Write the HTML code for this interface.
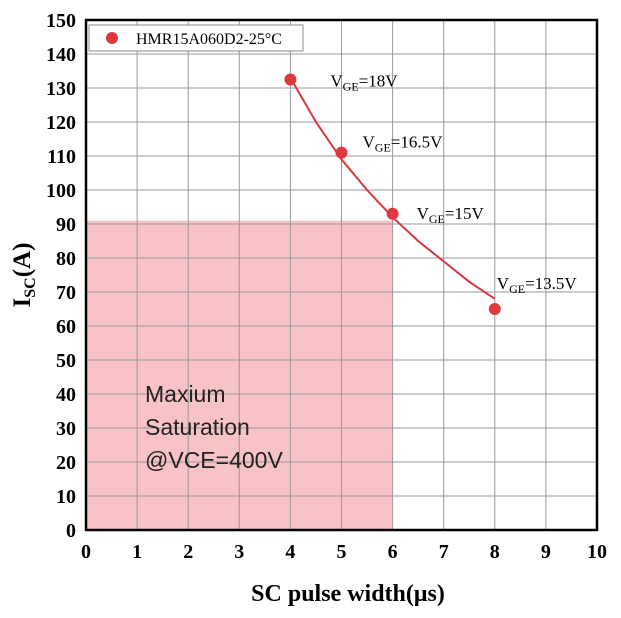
<!DOCTYPE html>
<html><head><meta charset="utf-8"><style>
body{margin:0;background:#fff;}
svg{display:block;font-family:"Liberation Serif",serif;}
</style></head><body>
<svg id="c" width="621" height="618"></svg>
<script>
const xTicks=[0,1,2,3,4,5,6,7,8,9,10];
const yTicks=[0,10,20,30,40,50,60,70,80,90,100,110,120,130,140,150];
const ptX=[4,5,6,8];
const ptY=[132.5,111,93,65];
const ptLabels=["18V","16.5V","15V","13.5V"];
const curveX=[4,4.5,5,5.5,6,6.5,7,7.5,8];
const curveY=[133,120,109,100,92,85,79,73,68];
const regionX=6, regionY=91;
const L=86,R=597,T=20,B=530;
const sx=v=>L+(R-L)*v/10, sy=v=>B-(B-T)*v/150;
const NS="http://www.w3.org/2000/svg";
const svg=document.getElementById('c');
function mk(t,a,p){const e=document.createElementNS(NS,t);for(const k in a)e.setAttribute(k,a[k]);(p||svg).appendChild(e);return e;}
let r=mk('rect',{x:L,y:sy(regionY),width:sx(regionX)-L,height:B-sy(regionY),fill:'#f8c3c6'});


xTicks.forEach(v=>{let l=mk('line',{x1:sx(v),x2:sx(v),y1:T,y2:B,stroke:'#999','stroke-width':1});


let t=mk('text',{x:sx(v),y:558,'text-anchor':'middle','font-size':20,'font-weight':'bold'});t.textContent=v;

});
yTicks.forEach(v=>{let l=mk('line',{x1:L,x2:R,y1:sy(v),y2:sy(v),stroke:'#999','stroke-width':1});


let t=mk('text',{x:76,y:sy(v)+7,'text-anchor':'end','font-size':20,'font-weight':'bold'});t.textContent=v;

});
let f=mk('rect',{x:L,y:T,width:R-L,height:B-T,fill:'none',stroke:'#000','stroke-width':2.5});


let d=curveX.map((x,i)=>(i?'L':'M')+sx(x)+','+sy(curveY[i])).join(' ');
let c=mk('path',{d:d,fill:'none',stroke:'#d9363e','stroke-width':2});


const offs=[[40,7],[21,-5],[24,5],[2,-20]];
ptX.forEach((x,i)=>{let p=mk('circle',{cx:sx(x),cy:sy(ptY[i]),r:6,fill:'#e0383f'});


let t=mk('text',{x:sx(x)+offs[i][0],y:sy(ptY[i])+offs[i][1],'font-size':17});
t.innerHTML='V<tspan font-size="12" dy="4">GE</tspan><tspan dy="-4">='+ptLabels[i]+'</tspan>';

});
let lg=mk('rect',{x:89,y:25,width:214,height:26,fill:'#fff',stroke:'#888'});


let lc=mk('circle',{cx:112,cy:38,r:6,fill:'#e0383f'});


let lt=mk('text',{x:136,y:44,'font-size':16});lt.textContent='HMR15A060D2-25°C';


['Maxium','Saturation','@VCE=400V'].forEach((s,i)=>{let t=mk('text',{x:145,y:402+i*33,'font-size':23,'font-family':'Liberation Sans, sans-serif',fill:'#222'});t.textContent=s;

});
let xt=mk('text',{x:348,y:601,'text-anchor':'middle','font-size':24,'font-weight':'bold'});xt.textContent='SC pulse width(μs)';


let yt=mk('text',{x:0,y:0,'text-anchor':'middle','font-size':25,'font-weight':'bold',transform:'translate(30,275) rotate(-90)'});
yt.innerHTML='I<tspan font-size="16" dy="5">SC</tspan><tspan dy="-5">(A)</tspan>';


</script>
</body></html>
